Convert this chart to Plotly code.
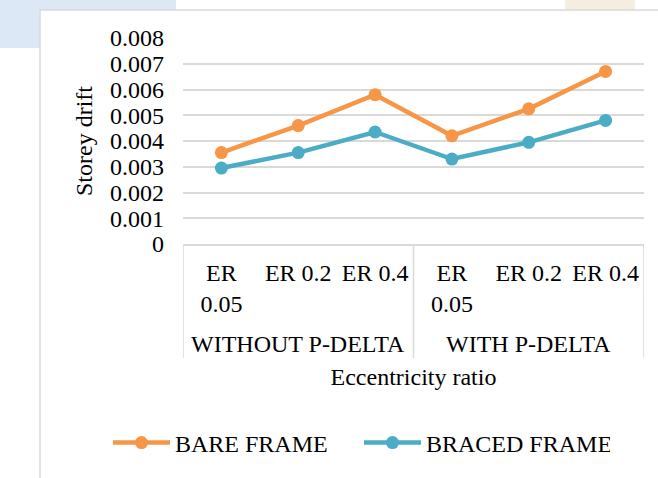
import plotly.graph_objects as go

# Storey drift for each eccentricity ratio, grouped by analysis type
group_names = ["WITHOUT P-DELTA", "WITH P-DELTA"]
er_labels = ["ER<br>0.05", "ER 0.2", "ER 0.4", "ER<br>0.05", "ER 0.2", "ER 0.4"]
bare_frame = [0.00355, 0.0046, 0.0058, 0.0042, 0.00525, 0.0067]
braced_frame = [0.00295, 0.00355, 0.00435, 0.0033, 0.00395, 0.0048]

y_tick_vals = [0, 0.001, 0.002, 0.003, 0.004, 0.005, 0.006, 0.007, 0.008]
y_tick_text = ["0", "0.001", "0.002", "0.003", "0.004", "0.005", "0.006", "0.007", "0.008"]

ORANGE = "#F79646"
BLUE = "#4BACC6"
GRID = "#D9D9D9"
FONT = "Liberation Serif, Times New Roman, serif"
FS = 24

W, H = 658, 478
L, R, T, B = 183, 14, 38, 234
pw, ph = W - L - R, H - T - B


def px_x(p):
    return (p - L) / pw


def px_y(p):
    return (H - B - p) / ph


# category slots along the x axis, three per group
x_pos = list(range(len(er_labels)))
per_group = len(er_labels) // len(group_names)

fig = go.Figure()
fig.add_trace(go.Scatter(
    x=x_pos, y=bare_frame, name="BARE FRAME", mode="lines+markers",
    line=dict(color=ORANGE, width=4.5), marker=dict(color=ORANGE, size=13),
))
fig.add_trace(go.Scatter(
    x=x_pos, y=braced_frame, name="BRACED FRAME", mode="lines+markers",
    line=dict(color=BLUE, width=4.5), marker=dict(color=BLUE, size=13),
))

shapes = [
    # page background behind the chart box
    dict(type="rect", xref="paper", yref="paper", layer="below",
         x0=px_x(0), x1=px_x(176), y0=px_y(48), y1=px_y(0),
         fillcolor="#DDE8F6", line=dict(width=0)),
    dict(type="rect", xref="paper", yref="paper", layer="below",
         x0=px_x(565), x1=px_x(635), y0=px_y(10), y1=px_y(0),
         fillcolor="#F5EDDF", line=dict(width=0)),
    # chart box
    dict(type="rect", xref="paper", yref="paper", layer="below",
         x0=px_x(40), x1=px_x(700), y0=px_y(520), y1=px_y(10),
         fillcolor="white", line=dict(color=GRID, width=1.5)),
]

# group dividers below the category axis
annotations = []
for g in range(len(group_names) + 1):
    xb = g * per_group - 0.5
    shapes.append(dict(type="line", xref="x", yref="paper",
                       x0=xb, x1=xb, y0=px_y(358), y1=0,
                       line=dict(color=GRID, width=1.5)))
for g, name in enumerate(group_names):
    annotations.append(dict(
        text=name, xref="x", yref="paper",
        x=g * per_group + (per_group - 1) / 2, y=px_y(344),
        xanchor="center", yanchor="middle", showarrow=False,
        font=dict(family=FONT, size=FS, color="black"),
    ))

fig.update_layout(
    width=W, height=H,
    margin=dict(l=L, r=R, t=T, b=B, autoexpand=False),
    paper_bgcolor="white", plot_bgcolor="rgba(0,0,0,0)",
    font=dict(family=FONT, size=FS, color="black"),
    shapes=shapes,
    annotations=annotations,
    showlegend=True,
    legend=dict(
        orientation="h", x=px_x(108), xanchor="left", y=px_y(443), yanchor="middle",
        font=dict(family=FONT, size=FS, color="black"),
        entrywidth=179, entrywidthmode="pixels", itemwidth=57,
        bgcolor="rgba(0,0,0,0)",
    ),
    xaxis=dict(
        range=[-0.5, len(er_labels) - 0.5],
        tickvals=x_pos, ticktext=er_labels,
        showline=True, linecolor=GRID, linewidth=1.5,
        showgrid=False, zeroline=False, ticks="",
        ticklabelstandoff=6,
        tickfont=dict(family=FONT, size=FS, color="black"),
        title=dict(text="Eccentricity ratio", standoff=52,
                   font=dict(family=FONT, size=FS, color="black")),
        automargin=False,
    ),
    yaxis=dict(
        range=[0, 0.008], tickvals=y_tick_vals, ticktext=y_tick_text,
        showgrid=True, gridcolor=GRID, gridwidth=1.5,
        zeroline=False, showline=False, ticks="",
        ticklabelstandoff=18,
        tickfont=dict(family=FONT, size=FS, color="black"),
        title=dict(text="Storey drift", standoff=10,
                   font=dict(family=FONT, size=FS, color="black")),
        automargin=False,
    ),
)

fig.write_html("out.html")
